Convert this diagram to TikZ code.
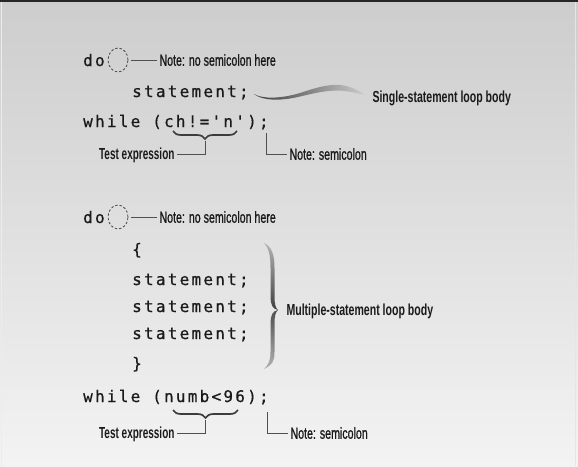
\documentclass[tikz,border=0pt]{standalone}
\usepackage{fontspec}
\usetikzlibrary{decorations.pathreplacing,shapes.geometric,calc}
\newfontfamily\codefont[LetterSpace=14,Ligatures=TeXOff,FakeBold=0.6]{DejaVu Sans Mono}
\newfontfamily\labfont[FakeStretch=0.665,FakeBold=0.9]{Liberation Sans}
\newfontfamily\labtfont[FakeStretch=0.625]{Liberation Sans}
\newfontfamily\labbfont[FakeStretch=0.66]{Liberation Sans}
\definecolor{bgtop}{HTML}{CDCDCD}
\definecolor{bgbot}{HTML}{F3F3F3}
\definecolor{ink}{HTML}{1A1A1A}
\definecolor{leadc}{HTML}{505050}
\tikzset{
  code/.style={font=\codefont\fontsize{16}{18}\selectfont, text=ink, anchor=base west, inner sep=0pt},
  note/.style={font=\labfont\fontsize{16}{18}\selectfont, text=ink, anchor=west, inner sep=0pt, outer sep=2.5pt, text height=11.5pt, text depth=0pt},
  testlab/.style={note, anchor=east, font=\labtfont\bfseries\fontsize{16}{18}\selectfont},
  strong/.style={note, font=\labbfont\bfseries\fontsize{16}{18}\selectfont},
  ring/.style={ellipse, draw=gray!55!black, dash pattern=on 2.4pt off 2pt, minimum width=20pt, minimum height=24pt, inner sep=0pt, line width=0.8pt},
  leader/.style={draw=leadc, line width=1pt},
  ubrace/.style={decorate, decoration={brace, mirror, amplitude=8pt}, line width=1.7pt, draw=ink!85},
}
\begin{document}
\begin{tikzpicture}[x=1pt,y=-1pt]
\useasboundingbox (0,0) rectangle (578,466);
\shade[top color=bgtop, bottom color=bgbot] (0,0) rectangle (578,466);
\fill[black!85] (0,0) rectangle (578,1.6);
\draw[white!85!gray, line width=0.8pt] (1.5,1.6) -- (1.5,466);
\draw[white!80!gray, line width=0.8pt] (575,1.6) -- (575,466);

% ---------- first loop ----------
\node[code] (do1) at (83,66) {do};
\node[code] (st1) at (132,97) {statement;};
\node[code] (wh1) at (83,127) {while (ch!='n');};

\node[ring] (r1) at (118,60) {};
\node[note] (n1) at (157,60) {Note: no semicolon here};
\draw[leader, shorten <=3pt] (r1.east) -- (n1.west);

% swoosh
\coordinate (sw1) at (254,94);
\node[strong] (sl1) at (370,97) {Single-statement loop body};
\shade[left color=ink!85, right color=gray!40]
  (sw1) .. controls (262,99) and (280,99) .. (300,93)
  .. controls (315,88) and (328,84) .. (340,85)
  .. controls (350,86) and (358,90) .. (365,95)
  .. controls (356,93) and (346,90.5) .. (338,90.5)
  .. controls (325,90.5) and (313,93.5) .. (300,96.5)
  .. controls (280,101.5) and (262,100.5) .. (sw1) -- cycle;

% test expression brace
\coordinate (b1l) at (173,131);
\coordinate (b1r) at (237,131);
\coordinate (b1t) at (205,141);
\draw[ubrace] (b1l) -- (b1r);
\node[testlab] (te1) at (177,154) {Test expression};
\draw[leader] (b1t) |- (te1.east);

% semicolon
\coordinate (s1) at (266,133);
\node[note] (ns1) at (287,154) {Note: semicolon};
\draw[leader] (s1) |- (ns1.west);

% ---------- second loop ----------
\node[code] (do2) at (83,223) {do};
\node[ring] (r2) at (118,217) {};
\node[note] (n2) at (157,217) {Note: no semicolon here};
\draw[leader, shorten <=3pt] (r2.east) -- (n2.west);

\node[code] (lb) at (132,255) {\{};
\node[code] (st2a) at (132,285) {statement;};
\node[code] (st2b) at (132,312) {statement;};
\node[code] (st2c) at (132,339) {statement;};
\node[code] (rb) at (132,369) {\}};
\node[code] (wh2) at (83,402) {while (numb<96);};

% big brace
\coordinate (bt) at (264,243);
\coordinate (bk) at (278,310);
\coordinate (bb) at (264,369);
\shade[top color=gray!60, bottom color=gray!60, middle color=ink!80]
  (bt) .. controls (272,247) and (274.5,255) .. (274.5,268) -- (274.5,296)
  .. controls (274.5,304) and (275.5,308) .. (bk)
  .. controls (275.5,312) and (274.5,316) .. (274.5,324) -- (274.5,352)
  .. controls (274.5,362) and (272,365) .. (bb)
  .. controls (269,364) and (270.5,360) .. (270.5,352) -- (270.5,324)
  .. controls (270.5,315) and (272.5,311) .. (bk)
  .. controls (272.5,309) and (270.5,305) .. (270.5,296) -- (270.5,268)
  .. controls (270.5,256) and (269,248) .. (bt) -- cycle;
\node[strong] (ml) at (284,310) {Multiple-statement loop body};

% test expression brace 2
\coordinate (b2l) at (173,410);
\coordinate (b2r) at (238,410);
\coordinate (b2t) at (205.5,420);
\draw[ubrace] (b2l) -- (b2r);
\node[testlab] (te2) at (177,433) {Test expression};
\draw[leader] (b2t) |- (te2.east);

\coordinate (s2) at (267,412);
\node[note] (ns2) at (288,433) {Note: semicolon};
\draw[leader] (s2) |- (ns2.west);
\end{tikzpicture}
\end{document}
